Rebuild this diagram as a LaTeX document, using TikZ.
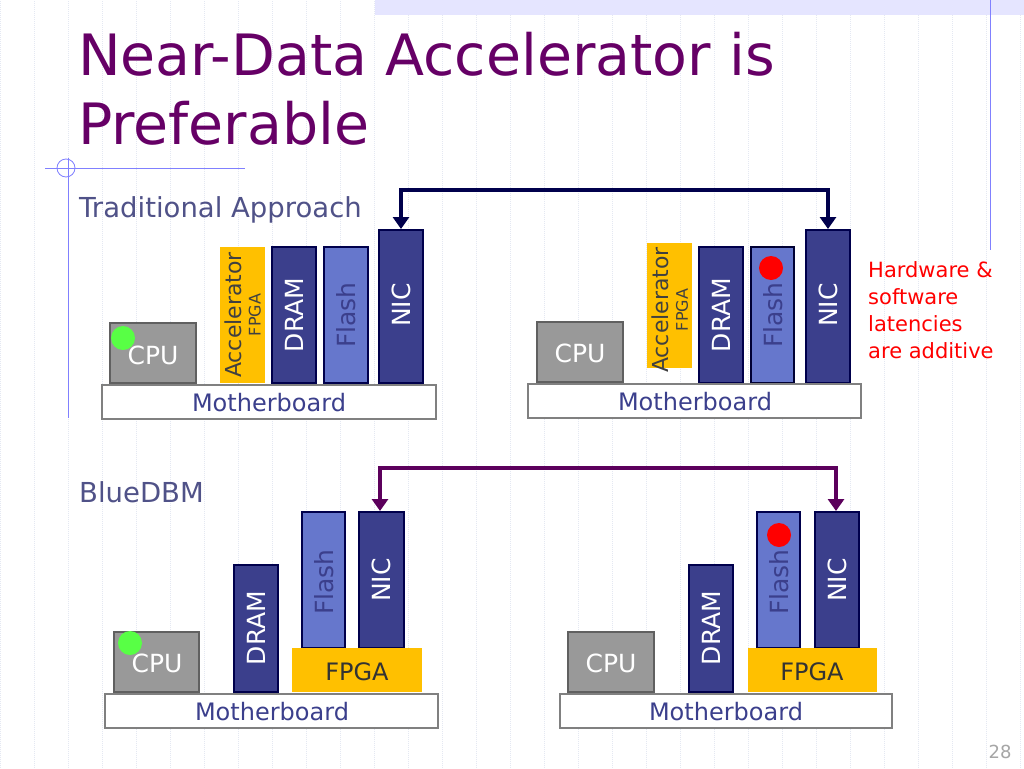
\documentclass[tikz,border=0pt]{standalone}
\usepackage{fontspec}
\setmainfont{DejaVu Sans}
\usetikzlibrary{arrows.meta}
\begin{document}
\begin{tikzpicture}[x=1pt,y=-1pt,
  dk/.style={draw=black!70!blue,fill=dkc,line width=1.2pt},
  fl/.style={draw=black!70!blue,fill=flc,line width=1.2pt},
  cpu/.style={draw=gray!75!black,fill=cpuc,line width=1.2pt},
  mb/.style={draw=gray,fill=white,line width=1.2pt},
  wt/.style={text=white,font=\fontsize{25}{25}\selectfont},
  fltxt/.style={rotate=90,text=lbl,font=\fontsize{25}{25}\selectfont},
  mbt/.style={text=lbl,font=\fontsize{24}{24}\selectfont},
  arr/.style={line width=4.5pt,{Triangle[length=12pt,width=16pt]}-{Triangle[length=12pt,width=16pt]}}]
\definecolor{dkc}{HTML}{3B3F8C}
\definecolor{flc}{HTML}{6677CC}
\definecolor{acc}{HTML}{FFC000}
\definecolor{cpuc}{HTML}{999999}
\definecolor{ttl}{HTML}{660066}
\definecolor{lbl}{HTML}{3B3F8C}
\definecolor{gridc}{HTML}{E4E8F2}
\useasboundingbox (0,0) rectangle (1024,768);
\fill[white] (0,0) rectangle (1024,768);
\draw[gridc,line width=0.6pt,dash pattern=on 1pt off 1pt] (0,0) grid[step=34] (1024,768);
\fill[blue!10] (375,0) rectangle (1024,15);
\draw[blue!50,line width=0.8pt] (990,0) -- (990,250);
\draw[blue!50,line width=0.8pt] (45,168) -- (245,168) (68,158) -- (68,418);
\draw[blue!50,line width=0.8pt] (66,168) circle (9);
\node[anchor=north west,text=ttl,font=\fontsize{57}{69}\selectfont,align=left,inner sep=0] (title) at (78,32) {Near-Data Accelerator is\\Preferable};
\node[anchor=west,text=lbl!70!gray,font=\fontsize{27.5}{27.5}\selectfont,inner sep=0] (trad) at (79,210) {Traditional Approach};
\node[anchor=west,text=lbl!70!gray,font=\fontsize{27.5}{27.5}\selectfont,inner sep=0] (bdbm) at (79,492) {BlueDBM};
\node[anchor=north west,text=red,font=\fontsize{21}{27}\selectfont,align=left,inner sep=0] (hw) at (868,261) {Hardware \&\\software\\latencies\\are additive};
\node[text=gray!70,font=\fontsize{18}{18}\selectfont] (pg) at (1000,752) {28};
% top-left
\draw[cpu] (110,323) rectangle (196,383); \node[wt] (c1) at (153,355) {CPU};
\fill[green!70!white!90!lime] (123,338) circle (12);
\fill[acc] (220,247) rectangle (265,383);
\node[rotate=90,align=center,font=\fontsize{22}{19}\selectfont,text=black!75] (a1) at (243,315) {Accelerator\\{\fontsize{16}{16}\selectfont FPGA}};
\draw[dk] (272,247) rectangle (316,383); \node[wt,rotate=90] (d1) at (294,315) {DRAM};
\draw[fl] (324,247) rectangle (368,383); \node[fltxt] (f1) at (346,315) {Flash};
\draw[dk] (379,230) rectangle (423,383); \node[wt,rotate=90] (n1) at (401,305) {NIC};
\draw[mb] (102,385) rectangle (436,419); \node[mbt] (m1) at (269,403) {Motherboard};
\coordinate (t1) at (401,229);
% top-right
\draw[cpu] (537,322) rectangle (623,382); \node[wt] (c2) at (580,353) {CPU};
\fill[acc] (647,243) rectangle (692,368);
\node[rotate=90,align=center,font=\fontsize{22}{19}\selectfont,text=black!75] (a2) at (670,310) {Accelerator\\{\fontsize{16}{16}\selectfont FPGA}};
\draw[dk] (699,247) rectangle (743,383); \node[wt,rotate=90] (d2) at (721,315) {DRAM};
\draw[fl,draw=black!80!blue,line width=1.6pt] (751,247) rectangle (794,383); \node[fltxt] (f2) at (773,315) {Flash};
\fill[red] (771,268) circle (12);
\draw[dk] (806,230) rectangle (850,383); \node[wt,rotate=90] (n2) at (828,305) {NIC};
\draw[mb] (528,384) rectangle (861,418); \node[mbt] (m2) at (695,402) {Motherboard};
\coordinate (t2) at (828,229);
\draw[arr,color=blue!30!black] (t1) -- ++(0,-39) -| (t2);
% bottom-left
\draw[cpu] (114,632) rectangle (199,692); \node[wt] (c3) at (157,663) {CPU};
\fill[green!70!white!90!lime] (130,643) circle (12);
\draw[dk] (234,565) rectangle (278,692); \node[wt,rotate=90] (d3) at (256,628) {DRAM};
\draw[fl] (302,512) rectangle (345,648); \node[fltxt] (f3) at (324,582) {Flash};
\draw[dk] (359,512) rectangle (404,648); \node[wt,rotate=90] (n3) at (381,580) {NIC};
\fill[acc] (292,648) rectangle (422,692); \node[text=black!80,font=\fontsize{24}{24}\selectfont] (g3) at (357,672) {FPGA};
\draw[mb] (105,694) rectangle (438,728); \node[mbt] (m3) at (272,712) {Motherboard};
\coordinate (t3) at (380,511);
% bottom-right
\draw[cpu] (568,632) rectangle (654,692); \node[wt] (c4) at (611,663) {CPU};
\draw[dk] (689,565) rectangle (733,692); \node[wt,rotate=90] (d4) at (711,628) {DRAM};
\draw[fl] (757,512) rectangle (800,648); \node[fltxt] (f4) at (779,582) {Flash};
\fill[red] (779,535) circle (12);
\draw[dk] (815,512) rectangle (859,648); \node[wt,rotate=90] (n4) at (837,580) {NIC};
\fill[acc] (748,648) rectangle (877,692); \node[text=black!80,font=\fontsize{24}{24}\selectfont] (g4) at (812,672) {FPGA};
\draw[mb] (560,694) rectangle (892,728); \node[mbt] (m4) at (726,712) {Motherboard};
\coordinate (t4) at (836,511);
\draw[arr,color=ttl!90!black] (t3) -- ++(0,-43) -| (t4);
\end{tikzpicture}
\end{document}
